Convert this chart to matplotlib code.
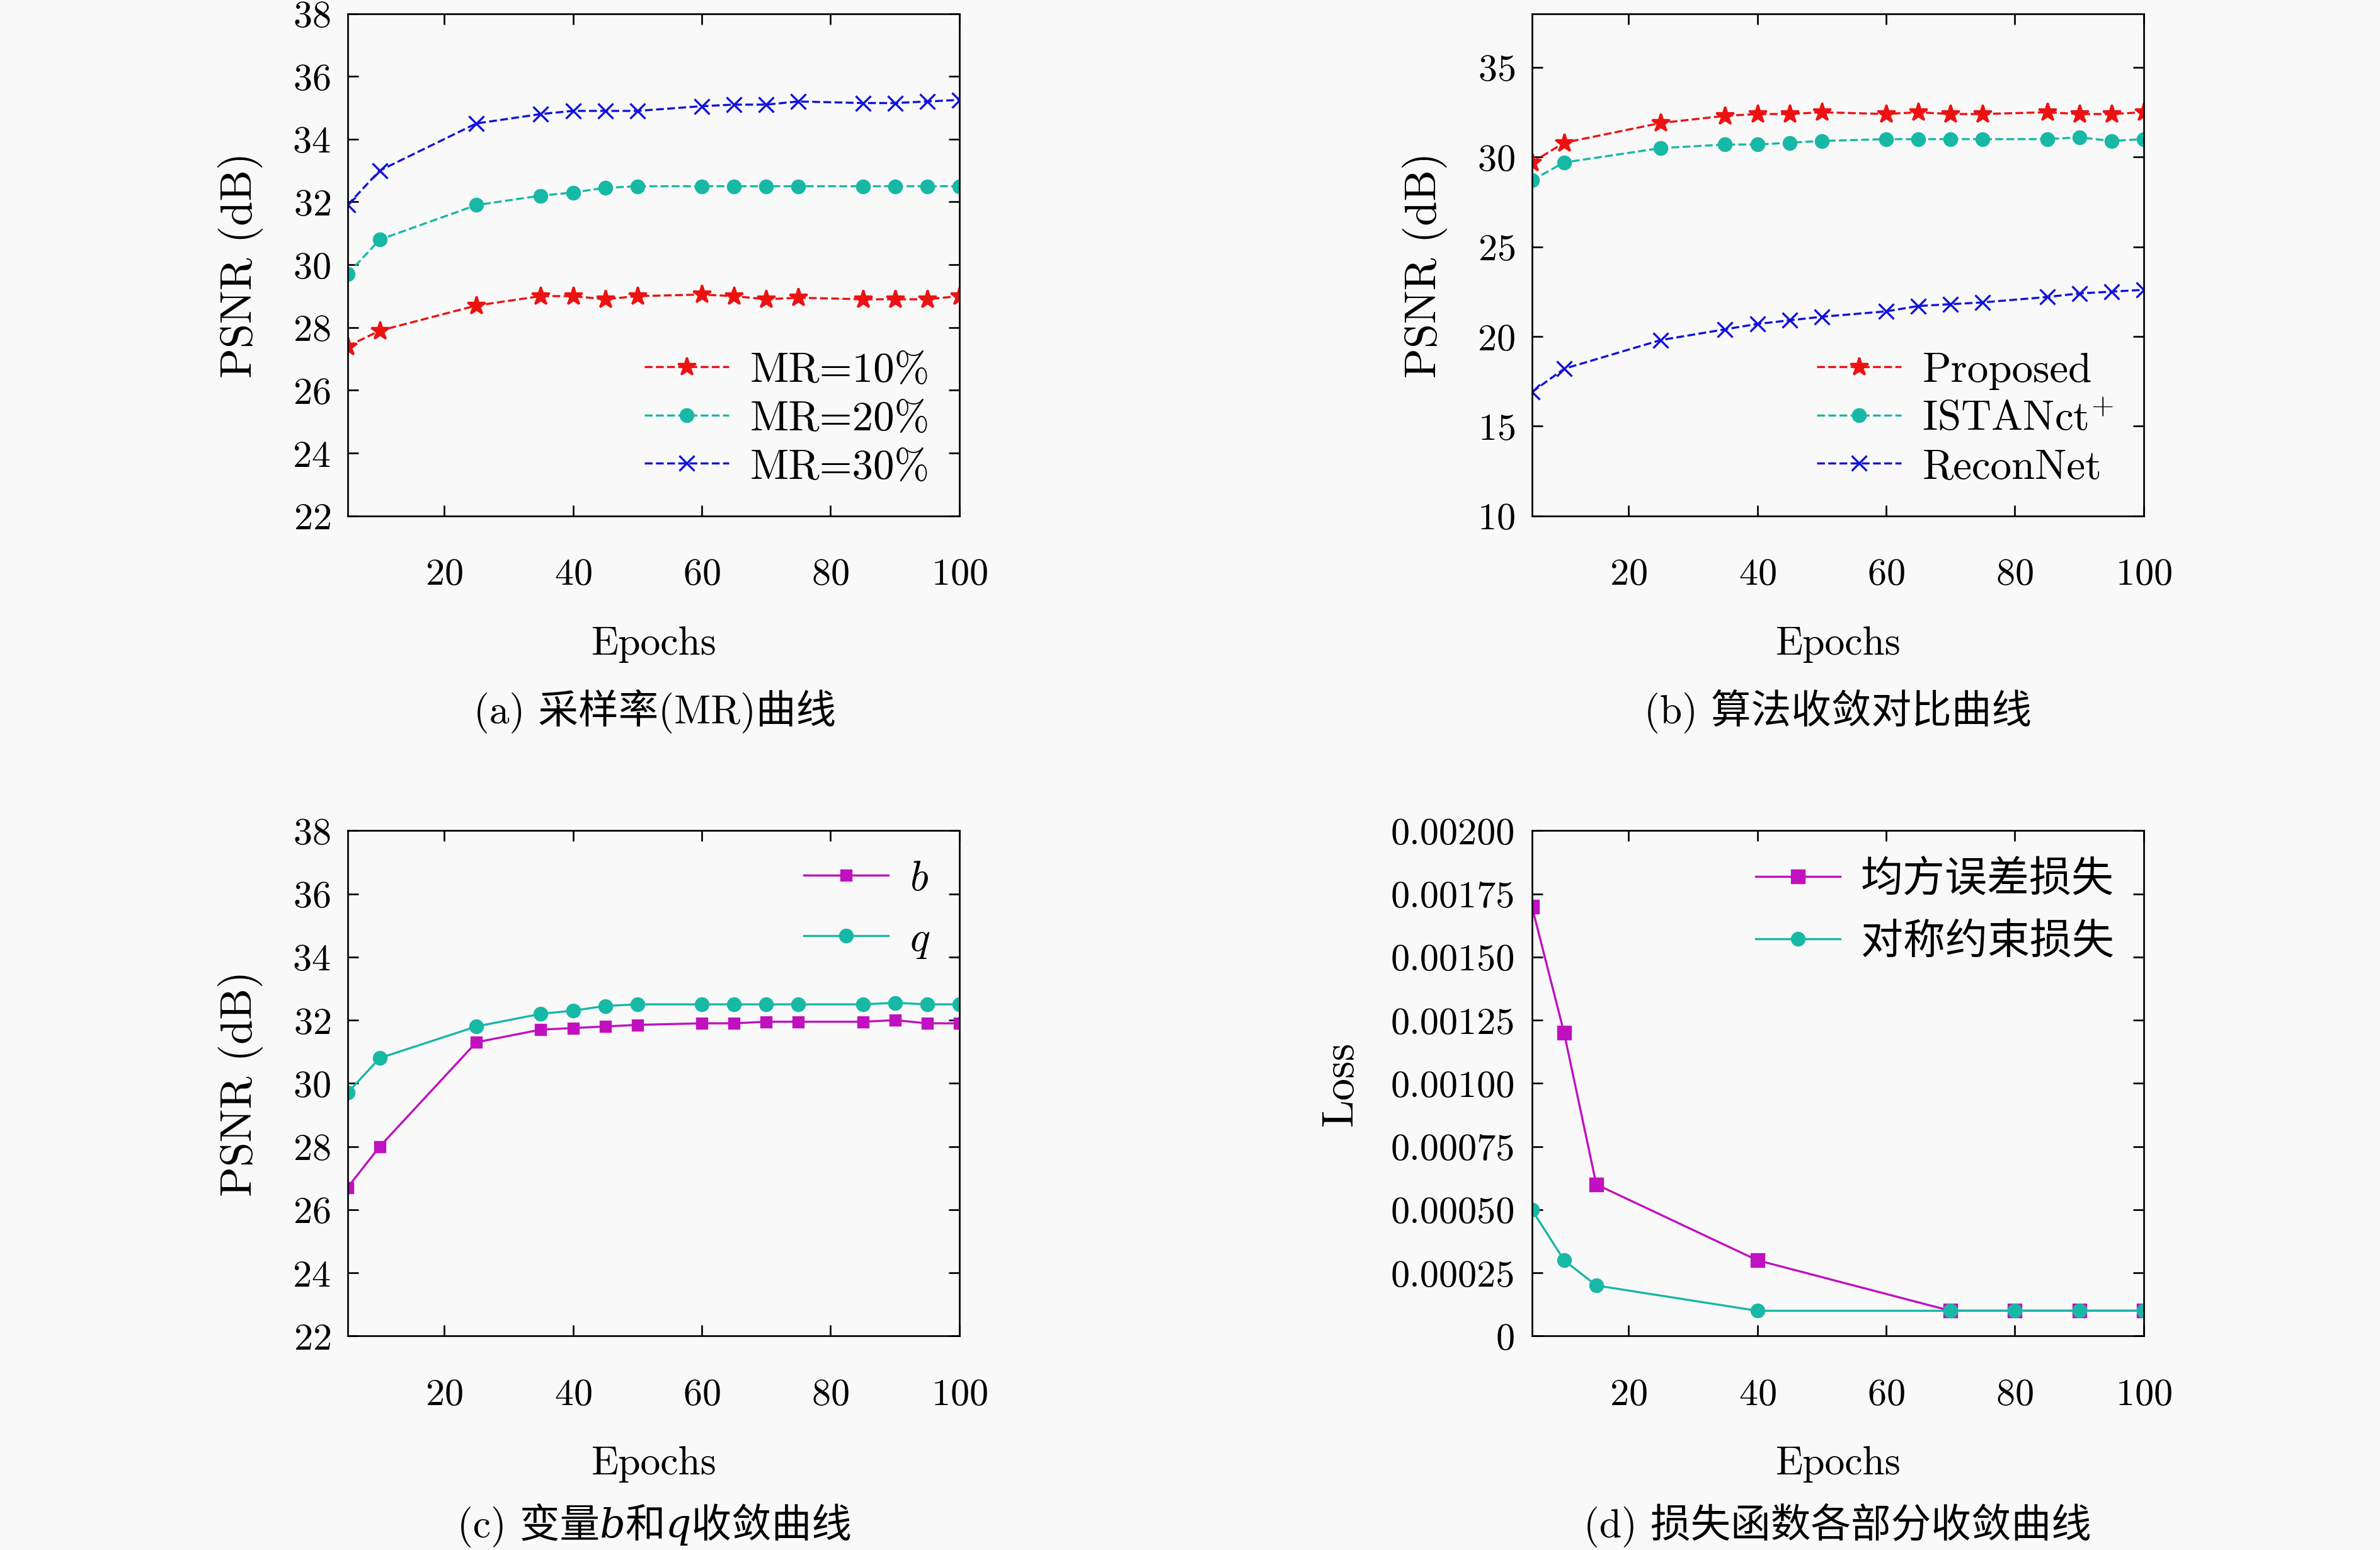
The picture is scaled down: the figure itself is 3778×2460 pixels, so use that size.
import matplotlib
matplotlib.use("Agg")
import matplotlib.pyplot as plt

plt.rcParams['font.family'] = ['cmr10', 'Noto Sans CJK SC', 'DejaVu Serif']
plt.rcParams['mathtext.fontset'] = 'cm'
plt.rcParams['axes.formatter.use_mathtext'] = True
plt.rcParams['font.size'] = 18

ep = [5, 10, 25, 35, 40, 45, 50, 60, 65, 70, 75, 85, 90, 95, 100]
mr10 = [27.4, 27.9, 28.7, 29.0, 29.0, 28.9, 29.0, 29.05, 29.0, 28.9, 28.95, 28.9, 28.9, 28.9, 29.0]
mr20 = [29.7, 30.8, 31.9, 32.2, 32.3, 32.45, 32.5, 32.5, 32.5, 32.5, 32.5, 32.5, 32.5, 32.5, 32.5]
mr30 = [31.9, 33.0, 34.5, 34.8, 34.9, 34.9, 34.9, 35.05, 35.1, 35.1, 35.2, 35.15, 35.15, 35.2, 35.25]
proposed = [29.7, 30.8, 31.9, 32.3, 32.4, 32.4, 32.5, 32.4, 32.5, 32.4, 32.4, 32.5, 32.4, 32.4, 32.5]
istanct = [28.7, 29.7, 30.5, 30.7, 30.7, 30.8, 30.9, 31.0, 31.0, 31.0, 31.0, 31.0, 31.1, 30.9, 31.0]
reconnet = [16.9, 18.2, 19.8, 20.4, 20.7, 20.9, 21.1, 21.4, 21.7, 21.8, 21.9, 22.2, 22.4, 22.5, 22.6]
var_b = [26.7, 28.0, 31.3, 31.7, 31.75, 31.8, 31.85, 31.9, 31.9, 31.95, 31.95, 31.95, 32.0, 31.9, 31.9]
var_q = [29.7, 30.8, 31.8, 32.2, 32.3, 32.45, 32.5, 32.5, 32.5, 32.5, 32.5, 32.5, 32.55, 32.5, 32.5]
ep_d = [5, 10, 15, 40, 70, 80, 90, 100]
mse_loss = [0.0017, 0.0012, 0.0006, 0.0003, 0.0001, 0.0001, 0.0001, 0.0001]
sym_loss = [0.0005, 0.0003, 0.0002, 0.0001, 0.0001, 0.0001, 0.0001, 0.0001]

RED, TEAL, BLUE, MAG = '#ee1111', '#17b8a6', '#1111dd', '#c010c0'
bg = '#f9f9f9'
fig = plt.figure(figsize=(15.68, 10.21), dpi=241, facecolor=bg)

L1, L2, W = 0.146, 0.6435, 0.257
axa = fig.add_axes([L1, 0.667, W, 0.324])
axb = fig.add_axes([L2, 0.667, W, 0.324])
axc = fig.add_axes([L1, 0.138, W, 0.326])
axd = fig.add_axes([L2, 0.138, W, 0.326])

def style(ax):
    ax.set_facecolor(bg)
    ax.set_xlim(5, 100)
    ax.set_xticks([20, 40, 60, 80, 100])
    ax.tick_params(direction='in', length=5, top=True, right=True)
    ax.tick_params(axis='x', pad=20)
    ax.tick_params(axis='y', pad=8)
    ax.set_xlabel('Epochs', labelpad=16, fontsize=19)

def ylab(ax, s):
    ax.set_ylabel(s, fontsize=21, labelpad=14)

ms = 7
axa.plot(ep, mr10, '--', color=RED, marker='*', ms=9, lw=1, label='MR=10%')
axa.plot(ep, mr20, '--', color=TEAL, marker='o', ms=ms - 1, lw=1, label='MR=20%')
axa.plot(ep, mr30, '--', color=BLUE, marker='x', ms=ms, lw=1, label='MR=30%')
style(axa); axa.set_ylim(22, 38); axa.set_yticks(range(22, 39, 2))
ylab(axa, 'PSNR (dB)')

axb.plot(ep, proposed, '--', color=RED, marker='*', ms=9, lw=1, label='Proposed')
axb.plot(ep, istanct, '--', color=TEAL, marker='o', ms=ms - 1, lw=1, label='ISTANct$^{+}$')
axb.plot(ep, reconnet, '--', color=BLUE, marker='x', ms=ms, lw=1, label='ReconNet')
style(axb); axb.set_ylim(10, 38); axb.set_yticks(range(10, 36, 5))
ylab(axb, 'PSNR (dB)')

axc.plot(ep, var_b, '-', color=MAG, marker='s', ms=5, lw=1, label='$b$')
axc.plot(ep, var_q, '-', color=TEAL, marker='o', ms=ms - 1, lw=1, label='$q$')
style(axc); axc.set_ylim(22, 38); axc.set_yticks(range(22, 39, 2))
ylab(axc, 'PSNR (dB)')

axd.plot(ep_d, mse_loss, '-', color=MAG, marker='s', ms=6, lw=1, label='均方误差损失')
axd.plot(ep_d, sym_loss, '-', color=TEAL, marker='o', ms=ms - 1, lw=1, label='对称约束损失')
style(axd); axd.set_ylim(0, 0.002)
yt = [0, 0.00025, 0.0005, 0.00075, 0.001, 0.00125, 0.0015, 0.00175, 0.002]
axd.set_yticks(yt)
axd.set_yticklabels(['0'] + ['%.5f' % v for v in yt[1:]])
ylab(axd, 'Loss')

for ax in (axa, axb):
    ax.legend(loc='lower right', frameon=False, fontsize=20, handlelength=2.0,
              labelspacing=0.25, handletextpad=0.5, borderaxespad=0.3)
for ax in (axc, axd):
    ax.legend(loc='upper right', frameon=False, fontsize=20, handlelength=2.0,
              labelspacing=0.55, handletextpad=0.5, borderaxespad=0.3)

fs = 19
fig.text(0.275, 0.541, '(a) 采样率(MR)曲线', ha='center', va='center', fontsize=fs)
fig.text(0.772, 0.541, '(b) 算法收敛对比曲线', ha='center', va='center', fontsize=fs)
fig.text(0.275, 0.016, '(c) 变量\U0001D44F和\U0001D45E收敛曲线', ha='center', va='center', fontsize=fs)
fig.text(0.772, 0.016, '(d) 损失函数各部分收敛曲线', ha='center', va='center', fontsize=fs)

fig.savefig('out.png', dpi=241, facecolor=bg)
